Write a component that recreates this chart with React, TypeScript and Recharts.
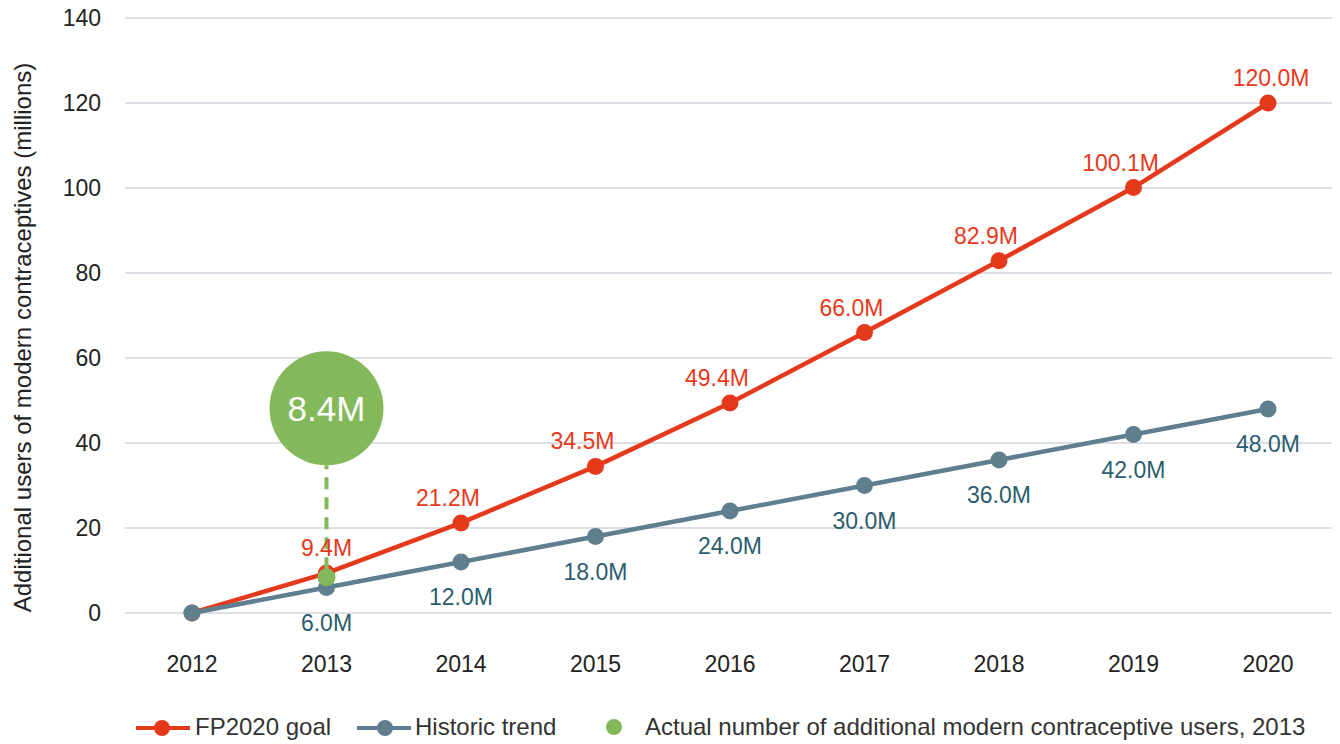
import React from 'react';
import { LineChart, Line, XAxis, YAxis, CartesianGrid, Legend, LabelList } from 'recharts';

const years = ['2012', '2013', '2014', '2015', '2016', '2017', '2018', '2019', '2020'];
const goalValues = [0, 9.4, 21.2, 34.5, 49.4, 66.0, 82.9, 100.1, 120.0];
const trendValues = [0, 6.0, 12.0, 18.0, 24.0, 30.0, 36.0, 42.0, 48.0];
const actualValues = [null, 8.4, null, null, null, null, null, null, null];
const yTicks = [0, 20, 40, 60, 80, 100, 120, 140];

const RED = '#E5391C';
const GREY = '#5F7F8F';
const TEAL = '#2B5D6E';
const GREEN = '#84B95B';
const FONT = '"Liberation Sans", Arial, Helvetica, sans-serif';

const rows = years.map((year, i) => ({
  year,
  goal: goalValues[i],
  trend: trendValues[i],
  actual: actualValues[i],
}));

const fmt = (v: number) => `${v.toFixed(1)}M`;

const GoalLabel = (props: any) => {
  const { x, y, value, index } = props;
  if (index === 0) return null;
  const dx = index === 1 ? 0 : index === 8 ? 3 : -13;
  return (
    <text x={x + dx} y={y - 25} textAnchor="middle" dominantBaseline="central" fill={RED} fontSize={23} fontFamily={FONT}>
      {fmt(value)}
    </text>
  );
};

const TrendLabel = (props: any) => {
  const { x, y, value, index } = props;
  if (index === 0) return null;
  return (
    <text x={x} y={y + 35} textAnchor="middle" dominantBaseline="central" fill={TEAL} fontSize={23} fontFamily={FONT}>
      {fmt(value)}
    </text>
  );
};

const ActualDot = (props: any) => {
  const { cx, cy, value, payload } = props;
  if (value == null || cy == null) return null;
  const v = payload.actual;
  return (
    <g key="actual">
      <line x1={cx} y1={cy - 8} x2={cx} y2={cy - 112} stroke={GREEN} strokeWidth={4} strokeDasharray="12 8" />
      <circle cx={cx} cy={cy - 169} r={57} fill={GREEN} />
      <text x={cx} y={cy - 169} textAnchor="middle" dominantBaseline="central" fill="#fff" fontSize={35} fontFamily={FONT}>
        {fmt(v)}
      </text>
      <circle cx={cx} cy={cy} r={9} fill={GREEN} />
    </g>
  );
};

const XTick = (props: any) => {
  const { x, y, payload } = props;
  return (
    <text x={x} y={y + 49} textAnchor="middle" dominantBaseline="central" fill="#222" fontSize={23} fontFamily={FONT}>
      {payload.value}
    </text>
  );
};

const YTick = (props: any) => {
  const { x, y, payload } = props;
  return (
    <text x={x - 22} y={y} textAnchor="end" dominantBaseline="central" fill="#222" fontSize={23} fontFamily={FONT}>
      {payload.value}
    </text>
  );
};

const YLabel = (props: any) => {
  const { viewBox } = props;
  const cx = viewBox.x + 14;
  const cy = viewBox.y + viewBox.height / 2 + 22;
  return (
    <text x={cx} y={cy} transform={`rotate(-90 ${cx} ${cy})`} textAnchor="middle" dominantBaseline="central" fill="#222" fontSize={24} fontFamily={FONT}>
      Additional users of modern contraceptives (millions)
    </text>
  );
};

const LegendContent = () => {
  const text = { fontSize: 24, fontFamily: FONT, color: '#333', whiteSpace: 'nowrap' as const };
  return (
    <div style={{ position: 'relative', height: 30, width: 1332 }}>
      <svg width={1332} height={30} style={{ position: 'absolute', left: 0, top: 0 }}>
        <line x1={128} y1={15} x2={182} y2={15} stroke={RED} strokeWidth={4} />
        <circle cx={154} cy={15} r={8} fill={RED} />
        <line x1={349} y1={15} x2={403} y2={15} stroke={GREY} strokeWidth={4} />
        <circle cx={377} cy={15} r={8} fill={GREY} />
        <circle cx={606} cy={14} r={8} fill={GREEN} />
      </svg>
      <span style={{ ...text, position: 'absolute', left: 187, top: 0 }}>FP2020 goal</span>
      <span style={{ ...text, position: 'absolute', left: 407, top: 0 }}>Historic trend</span>
      <span style={{ ...text, position: 'absolute', left: 637, top: 0 }}>
        Actual number of additional modern contraceptive users, 2013
      </span>
    </div>
  );
};

export default function App() {
  return (
    <LineChart width={1332} height={736} data={rows} margin={{ top: 10, right: 5, left: 0, bottom: 1 }}>
      <CartesianGrid vertical={false} stroke="#DCDFE5" strokeWidth={2} />
      <XAxis
        dataKey="year"
        axisLine={false}
        tickLine={false}
        tickSize={0}
        height={100}
        tick={<XTick />}
        interval={0}
        padding={{ left: 67, right: 67 }}
      />
      <YAxis
        domain={[0, 140]}
        ticks={yTicks}
        axisLine={false}
        tickLine={false}
        tickSize={0}
        width={117}
        tick={<YTick />}
        label={<YLabel />}
      />
      <Legend verticalAlign="bottom" height={30} content={<LegendContent />} />
      <Line
        dataKey="goal"
        name="FP2020 goal"
        stroke={RED}
        strokeWidth={4.5}
        dot={{ r: 8.5, fill: RED, stroke: RED, strokeWidth: 0 }}
        activeDot={false}
        isAnimationActive={false}
      >
        <LabelList dataKey="goal" content={<GoalLabel />} />
      </Line>
      <Line
        dataKey="trend"
        name="Historic trend"
        stroke={GREY}
        strokeWidth={4.5}
        dot={{ r: 8.5, fill: GREY, stroke: GREY, strokeWidth: 0 }}
        activeDot={false}
        isAnimationActive={false}
      >
        <LabelList dataKey="trend" content={<TrendLabel />} />
      </Line>
      <Line
        dataKey="actual"
        name="Actual number of additional modern contraceptive users, 2013"
        stroke="none"
        dot={<ActualDot />}
        activeDot={false}
        isAnimationActive={false}
      />
    </LineChart>
  );
}
